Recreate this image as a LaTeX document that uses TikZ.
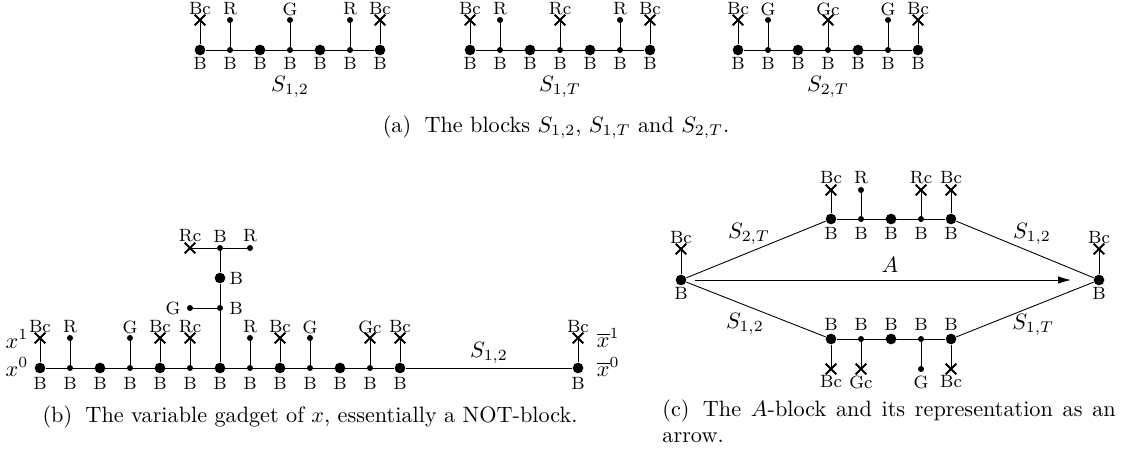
\documentclass[tikz,border=0pt]{standalone}
\usepackage{amsmath,amssymb}
\usepackage{tikz}
\usetikzlibrary{arrows.meta, positioning, shapes.misc, calc}

\tikzset{
	big/.style={circle, fill, inner sep=0pt, minimum size=4.8pt},
	small/.style={circle, fill, inner sep=0pt, minimum size=2.7pt},
	kreuz/.style={cross out, draw, line width=0.9pt, inner sep=0pt, minimum size=3.9pt},
	lbl/.style={inner sep=0.5pt, font=\footnotesize},
}

\begin{document}
\begin{tikzpicture}[x=0.45pt, y=-0.45pt]
	\useasboundingbox (0,0) rectangle (1121,458);
	
	% (a) Bloecke S_{1,2}, S_{1,T}, S_{2,T}
	\foreach \b/\x in {p/200, q/470, r/738} {
		\foreach \i in {0,...,6} {
			\ifodd\i
				\node[small] (\b\i) at (\x+30*\i,50) {};
			\else
				\node[big] (\b\i) at (\x+30*\i,50) {};
			\fi
			\node[lbl] (\b b\i) at (\x+30*\i,63) {B};
		}
		\draw (\b0) -- (\b6);
	}
	
	% Stiele der Bloecke
	\foreach \b/\x/\i/\s/\t in {p/200/0/kreuz/Bc, p/200/1/small/R, p/200/3/small/G, p/200/5/small/R, p/200/6/kreuz/Bc,
		q/470/0/kreuz/Bc, q/470/1/small/R, q/470/3/kreuz/Rc, q/470/5/small/R, q/470/6/kreuz/Bc,
		r/738/0/kreuz/Bc, r/738/1/small/G, r/738/3/kreuz/Gc, r/738/5/small/G, r/738/6/kreuz/Bc} {
		\node[\s] (\b t\i) at (\x+30*\i,20) {};
		\node[lbl] (\b l\i) at (\x+30*\i,9) {\t};
		\draw (\b\i) -- (\b t\i.center);
	}
	
	\node (pS) at (290,87) {$S_{1,2}$};
	\node (qS) at (560,87) {$S_{1,T}$};
	\node (rS) at (828,87) {$S_{2,T}$};
	\node (capa) at (556,127) {(a)\hspace{0.6em}The blocks $S_{1,2}$, $S_{1,T}$ and $S_{2,T}$.};
	
	% (b) Variablengadget
	\foreach \i in {0,...,12} {
		\ifodd\i
			\node[small] (v\i) at (40+30*\i,368) {};
		\else
			\node[big] (v\i) at (40+30*\i,368) {};
		\fi
		\node[lbl] (vb\i) at (40+30*\i,383) {B};
	}
	\node[big] (vE) at (578,368) {};
	\node[lbl] (vbE) at (578,383) {B};
	\draw (v0) -- (v12);
	\draw (v12) -- node[above=-1.5pt] (vS) {$S_{1,2}$} (vE);
	
	\foreach \i/\s/\t in {0/kreuz/Bc, 1/small/R, 3/small/G, 4/kreuz/Bc, 5/kreuz/Rc,
		7/small/R, 8/kreuz/Bc, 9/small/G, 11/kreuz/Gc, 12/kreuz/Bc} {
		\node[\s] (vt\i) at (40+30*\i,338) {};
		\node[lbl] (vl\i) at (40+30*\i,327) {\t};
		\draw (v\i) -- (vt\i.center);
	}
	\node[kreuz] (vtE) at (578,338) {};
	\node[lbl] (vlE) at (578,327) {Bc};
	\draw (vE) -- (vtE.center);
	
	% Ast nach oben
	\node[small] (w1) at (220,308) {};
	\node[big] (w2) at (220,278) {};
	\node[small] (w3) at (220,248) {};
	\node[small] (wG) at (190,308) {};
	\node[kreuz] (wRc) at (190,248) {};
	\node[small] (wR) at (250,248) {};
	\draw (v6) -- (w1) -- (w2) -- (w3);
	\draw (wG) -- (w1);
	\draw (wRc.center) -- (w3) -- (wR);
	\node[lbl, right=2pt of w1] (wb1) {B};
	\node[lbl, right=1pt of w2] (wb2) {B};
	\node[lbl] (wb3) at (220,236) {B};
	\node[lbl, left=2pt of wG] (wlG) {G};
	\node[lbl] (wlRc) at (190,236) {Rc};
	\node[lbl] (wlR) at (250,236) {R};
	
	\node[anchor=base east, inner sep=1pt] (x1) at (31,348) {$x^1$};
	\node[anchor=base east, inner sep=1pt] (x0) at (31,376) {$x^0$};
	\node[anchor=base west] (y1) at (589,347) {$\overline{x}^1$};
	\node[anchor=base west] (y0) at (589,376) {$\overline{x}^0$};
	\node (capb) at (310,417) {(b)\hspace{0.6em}The variable gadget of $x$, essentially a NOT-block.};
	
	% (c) A-Block
	\node[big] (L) at (681,280) {};
	\node[big] (R) at (1099,280) {};
	\foreach \n in {L,R} {
		\node[kreuz] (\n t) at ($(\n)+(0,-31)$) {};
		\node[lbl] (\n l) at ($(\n)+(0,-42)$) {Bc};
		\node[lbl] (\n b) at ($(\n)+(0,13)$) {B};
		\draw (\n) -- (\n t.center);
	}
	\foreach \i in {0,...,4} {
		\ifodd\i
			\node[small] (o\i) at (831+30*\i,219) {};
			\node[small] (u\i) at (831+30*\i,339) {};
		\else
			\node[big] (o\i) at (831+30*\i,219) {};
			\node[big] (u\i) at (831+30*\i,339) {};
		\fi
		\node[lbl] (ob\i) at (831+30*\i,233) {B};
		\node[lbl] (ub\i) at (831+30*\i,324) {B};
	}
	\draw (o0) -- (o4);
	\draw (u0) -- (u4);
	\foreach \i/\s/\t in {0/kreuz/Bc, 1/small/R, 3/kreuz/Rc, 4/kreuz/Bc} {
		\node[\s] (ot\i) at (831+30*\i,190) {};
		\node[lbl] (ol\i) at (831+30*\i,178) {\t};
		\draw (o\i) -- (ot\i.center);
	}
	\foreach \i/\s/\t in {0/kreuz/Bc, 1/kreuz/Gc, 3/small/G, 4/kreuz/Bc} {
		\node[\s] (ut\i) at (831+30*\i,369) {};
		\node[lbl] (ul\i) at (831+30*\i,382) {\t};
		\draw (u\i) -- (ut\i.center);
	}
	\draw (L) -- node[above, pos=0.45] (cS1) {$S_{2,T}$} (o0);
	\draw (o4) -- node[above, pos=0.55] (cS2) {$S_{1,2}$} (R);
	\draw (L) -- node[below, pos=0.42] (cS3) {$S_{1,2}$} (u0);
	\draw (u4) -- node[below, pos=0.56] (cS4) {$S_{1,T}$} (R);
	\draw[-{Latex[length=5.75pt, width=3.35pt]}, shorten <=3.75pt, shorten >=10pt] (L) -- node[above] (cA) {$A$} (R);
	\node[anchor=north west, text width=204pt, align=justify, inner sep=0pt] (capc) at (662,399)
		{(c)\hspace{0.6em}The $A$-block and its representation as an \mbox{arrow.}};
\end{tikzpicture}
\end{document}
